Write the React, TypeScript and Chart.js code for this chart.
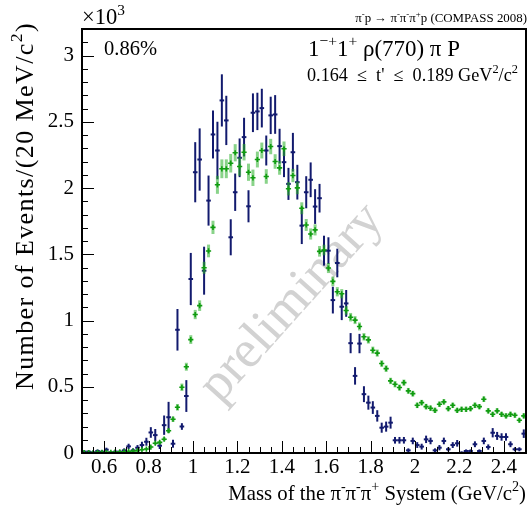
import { useEffect, useRef } from "react";
import { Chart, registerables } from "chart.js";

Chart.register(...registerables);

// Bin centres of the 3π mass histogram (GeV/c^2), 20 MeV bins
const massBins = [
  0.51, 0.53, 0.55, 0.57, 0.59, 0.61, 0.63, 0.65, 0.67, 0.69,
  0.71, 0.73, 0.75, 0.77, 0.79, 0.81, 0.83, 0.85, 0.87, 0.89,
  0.91, 0.93, 0.95, 0.97, 0.99, 1.01, 1.03, 1.05, 1.07, 1.09,
  1.11, 1.13, 1.15, 1.17, 1.19, 1.21, 1.23, 1.25, 1.27, 1.29,
  1.31, 1.33, 1.35, 1.37, 1.39, 1.41, 1.43, 1.45, 1.47, 1.49,
  1.51, 1.53, 1.55, 1.57, 1.59, 1.61, 1.63, 1.65, 1.67, 1.69,
  1.71, 1.73, 1.75, 1.77, 1.79, 1.81, 1.83, 1.85, 1.87, 1.89,
  1.91, 1.93, 1.95, 1.97, 1.99, 2.01, 2.03, 2.05, 2.07, 2.09,
  2.11, 2.13, 2.15, 2.17, 2.19, 2.21, 2.23, 2.25, 2.27, 2.29,
  2.31, 2.33, 2.35, 2.37, 2.39, 2.41, 2.43, 2.45, 2.47, 2.49,
];

// Dark blue: data points (events / 20 MeV)
const dataCounts = [
  10, 10, 5, 15, 10, 25, 5, 10, 10, 20,
  50, 20, 40, 60, 85, 155, 135, 55, 210, 270,
  70, 930, 200, 430, 1313, 2119, 2215, 1376, 1905, 2404,
  2283, 2661, 2510, 1628, 1968, 2228, 2384, 1862, 2568, 2578,
  2603, 2283, 2548, 2555, 2316, 2195, 2031, 2270, 2044, 1716,
  1968, 2062, 1860, 1923, 1527, 1527, 1154, 1434, 1104, 1129,
  829, 582, 826, 444, 380, 343, 280, 191, 199, 229,
  96, 96, 96, 20, 91, 60, 48, 103, 91, 20,
  40, 91, 28, 60, 73, 2, 15, 15, 66, 15,
  91, 45, 153, 129, 121, 121, 66, 28, 28, 146,
];
const dataErrors = [
  10, 10, 8, 12, 10, 15, 8, 10, 10, 15,
  20, 15, 20, 25, 30, 40, 46, 25, 73, 116,
  30, 157, 25, 120, 197, 227, 235, 181, 189, 181,
  217, 197, 186, 136, 141, 146, 146, 121, 146, 141,
  146, 113, 141, 146, 131, 113, 121, 146, 131, 139,
  121, 131, 131, 108, 113, 101, 101, 108, 101, 101,
  76, 66, 73, 60, 53, 48, 43, 38, 38, 45,
  25, 25, 25, 15, 25, 22, 22, 28, 25, 15,
  20, 25, 15, 22, 25, 10, 12, 12, 22, 12,
  25, 20, 35, 30, 28, 28, 22, 15, 15, 32,
];

// Green: model (fit) points
const modelCounts = [
  3, 3, 3, 5, 5, 5, 5, 8, 8, 10,
  12, 15, 18, 25, 30, 45, 74, 80, 104, 168,
  255, 345, 496, 651, 856, 1045, 1112, 1398, 1525, 1703,
  2024, 2145, 2145, 2187, 2266, 2162, 2270, 2119, 2077, 2215,
  2283, 2087, 2313, 2200, 2152, 2296, 1994, 2094, 2001, 1847,
  1721, 1653, 1684, 1522, 1532, 1396, 1295, 1217, 1202, 1076,
  1025, 1003, 955, 877, 854, 776, 754, 675, 637, 544,
  519, 494, 531, 469, 448, 360, 380, 350, 338, 322,
  368, 386, 335, 360, 322, 330, 330, 335, 360, 350,
  406, 318, 292, 318, 292, 280, 292, 285, 247, 280,
];
const modelErrors = [
  4, 4, 4, 4, 4, 4, 4, 5, 5, 5,
  6, 6, 7, 8, 8, 10, 12, 12, 15, 18,
  20, 25, 28, 30, 33, 35, 40, 45, 48, 50,
  68, 71, 71, 70, 65, 70, 62, 65, 62, 60,
  60, 55, 58, 55, 52, 55, 50, 50, 48, 45,
  45, 42, 42, 40, 40, 38, 36, 35, 35, 33,
  32, 30, 30, 28, 28, 27, 27, 25, 25, 24,
  24, 23, 23, 22, 22, 21, 21, 21, 20, 20,
  21, 20, 20, 20, 19, 20, 20, 20, 21, 20,
  21, 20, 19, 20, 19, 19, 20, 19, 18, 19,
];

const xTickValues = [0.6, 0.8, 1.0, 1.2, 1.4, 1.6, 1.8, 2.0, 2.2, 2.4];
const yTickValues = [0, 500, 1000, 1500, 2000, 2500, 3000];

const SERIF = '"Liberation Serif", "Times New Roman", Times, serif';
const BLUE = "#121a6e";
const GREEN = "#109c10";
const GREEN_ERR = "rgba(40,175,40,0.55)";

type Seg = { t: string; sup?: boolean };

function segFont(size: number, sup?: boolean) {
  return `${sup ? size * 0.68 : size}px ${SERIF}`;
}
function measureRich(ctx: CanvasRenderingContext2D, segs: Seg[], size: number) {
  let w = 0;
  for (const s of segs) {
    ctx.font = segFont(size, s.sup);
    w += ctx.measureText(s.t).width;
  }
  return w;
}
// Draws text with superscripts. If targetWidth is given, either the font
// size (spread=false) or the letter spacing (spread=true) is adapted.
function drawRich(
  ctx: CanvasRenderingContext2D,
  segs: Seg[],
  x: number,
  y: number,
  size: number,
  align: "left" | "right",
  targetWidth?: number,
  spread?: boolean
) {
  const c: any = ctx;
  c.letterSpacing = "0px";
  let sz = size;
  let ls = 0;
  const nChars = segs.reduce((n, s) => n + Array.from(s.t).length, 0);
  if (targetWidth && !spread) {
    const w = measureRich(ctx, segs, 100);
    sz = (100 * targetWidth) / w;
  } else if (targetWidth && spread) {
    const w = measureRich(ctx, segs, sz);
    ls = (targetWidth - w) / nChars;
  }
  const total = measureRich(ctx, segs, sz) + ls * nChars;
  let cx = align === "right" ? x - total : x;
  ctx.textAlign = "left";
  ctx.textBaseline = "alphabetic";
  for (const s of segs) {
    ctx.font = segFont(sz, s.sup);
    c.letterSpacing = "0px";
    const w = ctx.measureText(s.t).width;
    c.letterSpacing = `${ls}px`;
    ctx.fillText(s.t, cx, s.sup ? y - sz * 0.42 : y);
    cx += w + ls * Array.from(s.t).length;
  }
  c.letterSpacing = "0px";
}

const errorBarPlugin = {
  id: "errorBars",
  beforeDatasetDraw(chart: any, args: any) {
    const ds = chart.data.datasets[args.index];
    const errs: number[] = ds.errors;
    if (!errs) return;
    const { ctx, chartArea } = chart;
    const ys = chart.scales.y;
    ctx.save();
    ctx.beginPath();
    ctx.rect(chartArea.left, chartArea.top, chartArea.right - chartArea.left, chartArea.bottom - chartArea.top);
    ctx.clip();
    ctx.strokeStyle = ds.errColor;
    ctx.lineWidth = ds.errWidth;
    args.meta.data.forEach((pt: any, i: number) => {
      const v = ds.data[i].y;
      const e = errs[i];
      const top = ys.getPixelForValue(v + e);
      const bot = ys.getPixelForValue(Math.max(v - e, 0));
      ctx.beginPath();
      ctx.moveTo(pt.x, top);
      ctx.lineTo(pt.x, bot);
      ctx.stroke();
    });
    ctx.restore();
  },
};

const watermarkPlugin = {
  id: "watermark",
  beforeDatasetsDraw(chart: any) {
    const { ctx } = chart;
    ctx.save();
    ctx.translate(292, 303);
    ctx.rotate((-48 * Math.PI) / 180);
    ctx.fillStyle = "rgb(210,210,210)";
    ctx.font = `53px ${SERIF}`;
    ctx.textAlign = "center";
    ctx.textBaseline = "middle";
    ctx.fillText("preliminary", 0, 0);
    ctx.restore();
  },
};

const framePlugin = {
  id: "rootFrame",
  afterDraw(chart: any) {
    const { ctx, chartArea } = chart;
    const { left, right, top, bottom } = chartArea;
    const xs = chart.scales.x;
    const ys = chart.scales.y;
    ctx.save();
    ctx.strokeStyle = "#000";
    ctx.lineWidth = 1;
    for (let k = 0; k <= 32; k++) {
      const py = Math.round(ys.getPixelForValue(k * 100)) + 0.5;
      const len = k % 5 === 0 ? 12 : 6;
      ctx.beginPath();
      ctx.moveTo(left, py);
      ctx.lineTo(left + len, py);
      ctx.stroke();
    }
    for (let k = 10; k <= 50; k++) {
      const px = Math.round(xs.getPixelForValue(k * 0.05)) + 0.5;
      const len = k % 4 === 0 ? 12 : 6;
      ctx.beginPath();
      ctx.moveTo(px, bottom);
      ctx.lineTo(px, bottom - len);
      ctx.stroke();
    }
    ctx.lineWidth = 2;
    ctx.strokeRect(left, top, right - left, bottom - top);

    ctx.fillStyle = "#000";
    drawRich(ctx, [{ t: "×10" }, { t: "3", sup: true }], 82, 24, 20, "left", 43);
    drawRich(
      ctx,
      [
        { t: "π" }, { t: "-", sup: true }, { t: "p → π" }, { t: "-", sup: true },
        { t: "π" }, { t: "-", sup: true }, { t: "π" }, { t: "+", sup: true },
        { t: "p (COMPASS 2008)" },
      ],
      527, 22, 11, "right", 172
    );
    drawRich(ctx, [{ t: "0.86%" }], 104, 55, 20, "left", 53);
    drawRich(
      ctx,
      [{ t: "1" }, { t: "−+", sup: true }, { t: "1" }, { t: "+", sup: true }, { t: " ρ(770) π P" }],
      308, 56, 20, "left", 152
    );
    drawRich(
      ctx,
      [{ t: "0.164  ≤  t'  ≤  0.189 GeV" }, { t: "2", sup: true }, { t: "/c" }, { t: "2", sup: true }],
      307, 81, 17.5, "left", 211
    );
    drawRich(
      ctx,
      [
        { t: "Mass of the π" }, { t: "-", sup: true }, { t: "π" }, { t: "-", sup: true },
        { t: "π" }, { t: "+", sup: true }, { t: " System (GeV/c" }, { t: "2", sup: true }, { t: ")" },
      ],
      526, 500, 20, "right", 298
    );
    ctx.save();
    ctx.translate(33, 22);
    ctx.rotate(-Math.PI / 2);
    drawRich(
      ctx,
      [{ t: "Number of Events/(20 MeV/c" }, { t: "2", sup: true }, { t: ")" }],
      0, 0, 26, "right", 368, true
    );
    ctx.restore();
    ctx.restore();
  },
};

export default function App() {
  const ref = useRef<HTMLCanvasElement>(null);
  useEffect(() => {
    const chart = new Chart(ref.current as HTMLCanvasElement, {
      type: "scatter",
      data: {
        datasets: [
          {
            label: "Model",
            data: massBins.map((m, i) => ({ x: m, y: modelCounts[i] })),
            errors: modelErrors,
            errColor: GREEN_ERR,
            errWidth: 3,
            pointStyle: "cross",
            pointRadius: 2.6,
            pointHoverRadius: 2.6,
            pointBorderWidth: 1.6,
            pointBorderColor: GREEN,
            pointBackgroundColor: GREEN,
            showLine: false,
          } as any,
          {
            label: "Data",
            data: massBins.map((m, i) => ({ x: m, y: dataCounts[i] })),
            errors: dataErrors,
            errColor: BLUE,
            errWidth: 2,
            pointStyle: "line",
            pointRadius: 2.3,
            pointHoverRadius: 2.3,
            pointBorderWidth: 2,
            pointBorderColor: BLUE,
            pointBackgroundColor: BLUE,
            showLine: false,
          } as any,
        ],
      },
      options: {
        responsive: false,
        animation: false,
        devicePixelRatio: 1,
        events: [],
        layout: { padding: { left: 0, top: 29, right: 5, bottom: 0 } },
        plugins: {
          legend: { display: false },
          tooltip: { enabled: false },
          title: { display: false },
        },
        scales: {
          x: {
            type: "linear",
            min: 0.5,
            max: 2.5,
            afterFit: (s: any) => {
              s.height = 55;
            },
            afterBuildTicks: (s: any) => {
              s.ticks = xTickValues.map((v) => ({ value: v }));
            },
            grid: { display: false, drawTicks: false },
            border: { display: false },
            ticks: {
              autoSkip: false,
              maxRotation: 0,
              padding: 4,
              color: "#000",
              font: { family: SERIF, size: 21, lineHeight: 1 },
              callback: (v: any) => String(Number(Number(v).toFixed(2))),
            },
          },
          y: {
            type: "linear",
            min: 0,
            max: 3200,
            afterFit: (s: any) => {
              s.width = 82;
            },
            afterBuildTicks: (s: any) => {
              s.ticks = yTickValues.map((v) => ({ value: v }));
            },
            grid: { display: false, drawTicks: false },
            border: { display: false },
            ticks: {
              autoSkip: false,
              padding: 8,
              color: "#000",
              font: { family: SERIF, size: 21, lineHeight: 1 },
              callback: (v: any) => String(Number(v) / 1000),
            },
          },
        },
      } as any,
      plugins: [errorBarPlugin, watermarkPlugin, framePlugin],
    });
    return () => chart.destroy();
  }, []);
  return (
    <div style={{ position: "absolute", left: 0, top: 0, width: 531, height: 508, background: "#fff" }}>
      <canvas ref={ref} width={531} height={508} style={{ display: "block", width: 531, height: 508 }} />
    </div>
  );
}
